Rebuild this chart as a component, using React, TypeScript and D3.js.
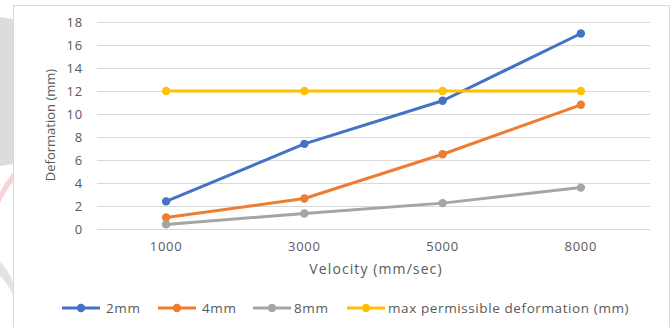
import React, { useEffect, useRef } from 'react'
import * as d3 from 'd3'

const velocities = ['1000', '3000', '5000', '8000']
const mm2 = [2.4, 7.4, 11.15, 17.0]
const mm4 = [1.0, 2.65, 6.5, 10.8]
const mm8 = [0.4, 1.35, 2.25, 3.6]
const maxPermissible = [12, 12, 12, 12]
const seriesNames = ['2mm', '4mm', '8mm', 'max permissible deformation (mm)']
const yTicks = [0, 2, 4, 6, 8, 10, 12, 14, 16, 18]

const colors = ['#4472C4', '#ED7D31', '#A5A5A5', '#FFC000']
const FONT = "'Open Sans', sans-serif"

export default function App() {
  const ref = useRef<SVGSVGElement | null>(null)

  useEffect(() => {
    if (!ref.current) return
    document.body.style.margin = '0'
    const svg = d3.select(ref.current)
    svg.selectAll('*').remove()
    const width = 672
    const height = 327

    // page background bits around the chart frame (grey slab, pink/grey swooshes)
    svg.append('rect').attr('width', width).attr('height', height).attr('fill', '#fff')
    svg.append('path').attr('d', 'M0,17 L13,19 L13,164 L0,166 Z').attr('fill', '#dcdcdc')
    svg.append('path').attr('d', 'M0,203 Q6,190 13,182 L13,172 Q5,182 0,192 Z').attr('fill', '#fbd5d5')
    svg.append('path').attr('d', 'M0,262 Q7,268 13,282 L13,295 Q7,282 0,276 Z').attr('fill', '#e3e3e3')

    // chart frame
    svg.append('rect')
      .attr('x', 13.5).attr('y', 5.5).attr('width', 656).attr('height', 330)
      .attr('fill', '#fff').attr('stroke', '#d9d9d9').attr('stroke-width', 1)

    const x = d3.scaleBand<string>().domain(velocities).range([97, 650])
    const y = d3.scaleLinear().domain([0, 18]).range([229, 22])
    const cx = (c: string) => (x(c) || 0) + x.bandwidth() / 2

    // gridlines
    svg.append('g')
      .selectAll('line')
      .data(yTicks)
      .join('line')
      .attr('x1', 97).attr('x2', 650)
      .attr('y1', (d) => Math.round(y(d)) + 0.5)
      .attr('y2', (d) => Math.round(y(d)) + 0.5)
      .attr('stroke', '#d9d9d9').attr('stroke-width', 1.2)

    // y tick labels
    svg.append('g')
      .selectAll('text')
      .data(yTicks)
      .join('text')
      .attr('x', 83).attr('y', (d) => y(d))
      .attr('text-anchor', 'end').attr('dominant-baseline', 'central')
      .attr('fill', '#595959').style('font', `13px ${FONT}`)
      .style('letter-spacing', '0.8px')
      .text((d) => d)

    // x tick labels
    svg.append('g')
      .selectAll('text')
      .data(velocities)
      .join('text')
      .attr('x', (d) => cx(d)).attr('y', 246)
      .attr('text-anchor', 'middle').attr('dominant-baseline', 'central')
      .attr('fill', '#595959').style('font', `13px ${FONT}`)
      .style('letter-spacing', '0.8px')
      .text((d) => d)

    // axis titles
    svg.append('text')
      .attr('x', 376).attr('y', 268)
      .attr('text-anchor', 'middle').attr('dominant-baseline', 'central')
      .attr('fill', '#595959').style('font', `14px ${FONT}`)
      .style('letter-spacing', '1.1px')
      .text('Velocity (mm/sec)')
    svg.append('text')
      .attr('transform', 'translate(50,125) rotate(-90)')
      .attr('text-anchor', 'middle').attr('dominant-baseline', 'central')
      .attr('fill', '#595959').style('font', `13px ${FONT}`)
      .text('Deformation (mm)')

    const allSeries = [mm2, mm4, mm8, maxPermissible]
    const line = d3.line<number>()
      .x((_, i) => cx(velocities[i]))
      .y((d) => y(d))

    // draw order: 2mm, 4mm, 8mm, max
    allSeries.forEach((vals, si) => {
      const g = svg.append('g')
      g.append('path')
        .attr('d', line(vals) || '')
        .attr('fill', 'none').attr('stroke', colors[si]).attr('stroke-width', 3)
        .attr('stroke-linejoin', 'round')
      g.selectAll('circle')
        .data(vals)
        .join('circle')
        .attr('cx', (_, i) => cx(velocities[i]))
        .attr('cy', (d) => y(d))
        .attr('r', 4.2)
        .attr('fill', colors[si])
    })

    // legend
    const legendX = [62, 158, 253, 347]
    const legend = svg.append('g')
      .selectAll('g')
      .data(seriesNames)
      .join('g')
      .attr('transform', (_, i) => `translate(${legendX[i]},308)`)
    legend.append('line')
      .attr('x1', 0).attr('x2', 38).attr('y1', 0).attr('y2', 0)
      .attr('stroke', (_, i) => colors[i]).attr('stroke-width', 3)
    legend.append('circle')
      .attr('cx', 19).attr('cy', 0).attr('r', 4.2)
      .attr('fill', (_, i) => colors[i])
    legend.append('text')
      .attr('x', (_, i) => (i >= 2 ? 41 : 44)).attr('y', 0)
      .attr('dominant-baseline', 'central')
      .attr('fill', '#595959').style('font', `13.5px ${FONT}`)
      .style('letter-spacing', '0.6px')
      .text((d) => d)
  }, [])

  return (
    <div style={{ position: 'absolute', left: 0, top: 0 }}>
      <svg ref={ref} width={672} height={327} style={{ display: 'block' }} />
    </div>
  )
}
